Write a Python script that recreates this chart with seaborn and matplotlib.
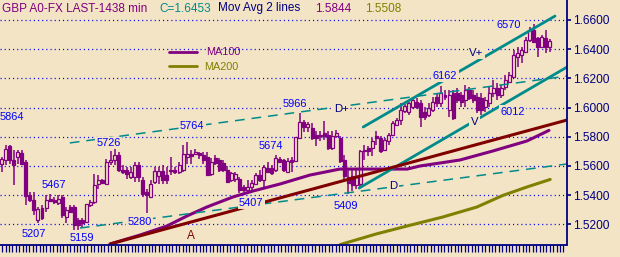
import numpy as np
import pandas as pd
import matplotlib
matplotlib.use("Agg")
import matplotlib.pyplot as plt
from matplotlib.lines import Line2D
import seaborn as sns

sns.set_theme(style="white")
plt.rcParams['font.family'] = ['Liberation Sans', 'DejaVu Sans']
plt.rcParams['lines.scale_dashes'] = False
plt.rcParams['savefig.bbox'] = 'standard'

# ---------------- data ----------------
opens = [1.5616, 1.5639, 1.5734, 1.5639, 1.5661, 1.5689, 1.5627, 1.5400, 1.5366, 1.5230,
         1.5309, 1.5309, 1.5373, 1.5366, 1.5348, 1.5389, 1.5248, 1.5316, 1.5316, 1.5230,
         1.5230, 1.5218, 1.5332, 1.5355, 1.5480, 1.5502, 1.5480, 1.5627, 1.5639, 1.5673,
         1.5575, 1.5570, 1.5525, 1.5525, 1.5605, 1.5502, 1.5423, 1.5389, 1.5491, 1.5530,
         1.5566, 1.5536, 1.5566, 1.5575, 1.5559, 1.5570, 1.5661, 1.5684, 1.5680, 1.5689,
         1.5673, 1.5661, 1.5545, 1.5652, 1.5641, 1.5623, 1.5573, 1.5505, 1.5509, 1.5509,
         1.5459, 1.5436, 1.5459, 1.5477, 1.5539, 1.5505, 1.5584, 1.5584, 1.5573, 1.5645,
         1.5641, 1.5561, 1.5641, 1.5636, 1.5789, 1.5902, 1.5864, 1.5861, 1.5815, 1.5804,
         1.5826, 1.5815, 1.5724, 1.5804, 1.5792, 1.5644, 1.5527, 1.5530, 1.5473, 1.5480,
         1.5701, 1.5724, 1.5724, 1.5804, 1.5792, 1.5712, 1.5769, 1.5815, 1.5884, 1.5918,
         1.5975, 1.5972, 1.6006, 1.6041, 1.6029, 1.5972, 1.5949, 1.5984, 1.6075, 1.6029,
         1.6086, 1.5984, 1.6098, 1.6098, 1.6086, 1.6052, 1.6121, 1.6086, 1.6075, 1.6063,
         1.6006, 1.6029, 1.6098, 1.6132, 1.6086, 1.6143, 1.6178, 1.6212, 1.6349, 1.6360,
         1.6383, 1.6463, 1.6532, 1.6474, 1.6417, 1.6479, 1.6413]
highs = [1.5661, 1.5741, 1.5745, 1.5707, 1.5707, 1.5707, 1.5639, 1.5423, 1.5423, 1.5320,
         1.5332, 1.5400, 1.5411, 1.5389, 1.5400, 1.5400, 1.5320, 1.5332, 1.5332, 1.5241,
         1.5241, 1.5343, 1.5366, 1.5548, 1.5536, 1.5514, 1.5650, 1.5700, 1.5726, 1.5695,
         1.5605, 1.5593, 1.5593, 1.5627, 1.5627, 1.5525, 1.5445, 1.5502, 1.5593, 1.5593,
         1.5605, 1.5593, 1.5661, 1.5593, 1.5627, 1.5741, 1.5764, 1.5707, 1.5718, 1.5695,
         1.5695, 1.5695, 1.5652, 1.5675, 1.5652, 1.5641, 1.5600, 1.5561, 1.5561, 1.5523,
         1.5470, 1.5505, 1.5505, 1.5550, 1.5573, 1.5607, 1.5630, 1.5607, 1.5674, 1.5664,
         1.5645, 1.5652, 1.5664, 1.5800, 1.5966, 1.5914, 1.5902, 1.5895, 1.5838, 1.5838,
         1.5906, 1.5838, 1.5838, 1.5849, 1.5804, 1.5678, 1.5575, 1.5575, 1.5580, 1.5712,
         1.5747, 1.5735, 1.5792, 1.5838, 1.5804, 1.5792, 1.5826, 1.5906, 1.5929, 1.6032,
         1.6032, 1.6041, 1.6075, 1.6063, 1.6052, 1.6006, 1.6029, 1.6075, 1.6098, 1.6150,
         1.6121, 1.6121, 1.6121, 1.6132, 1.6109, 1.6155, 1.6143, 1.6121, 1.6098, 1.6098,
         1.6075, 1.6143, 1.6189, 1.6166, 1.6155, 1.6223, 1.6246, 1.6395, 1.6417, 1.6417,
         1.6486, 1.6554, 1.6570, 1.6486, 1.6497, 1.6532, 1.6468]
lows = [1.5559, 1.5605, 1.5616, 1.5468, 1.5616, 1.5605, 1.5332, 1.5355, 1.5264, 1.5207,
        1.5230, 1.5286, 1.5355, 1.5343, 1.5332, 1.5241, 1.5207, 1.5275, 1.5161, 1.5159,
        1.5184, 1.5207, 1.5320, 1.5343, 1.5445, 1.5475, 1.5468, 1.5605, 1.5605, 1.5559,
        1.5548, 1.5514, 1.5514, 1.5491, 1.5491, 1.5389, 1.5280, 1.5384, 1.5480, 1.5480,
        1.5480, 1.5480, 1.5536, 1.5548, 1.5548, 1.5559, 1.5616, 1.5616, 1.5673, 1.5650,
        1.5616, 1.5536, 1.5530, 1.5607, 1.5561, 1.5561, 1.5482, 1.5493, 1.5493, 1.5414,
        1.5425, 1.5407, 1.5436, 1.5470, 1.5493, 1.5459, 1.5550, 1.5539, 1.5561, 1.5618,
        1.5561, 1.5550, 1.5561, 1.5630, 1.5782, 1.5834, 1.5834, 1.5781, 1.5735, 1.5769,
        1.5781, 1.5712, 1.5712, 1.5792, 1.5621, 1.5507, 1.5409, 1.5430, 1.5440, 1.5450,
        1.5644, 1.5667, 1.5667, 1.5747, 1.5689, 1.5701, 1.5747, 1.5804, 1.5872, 1.5884,
        1.5963, 1.5950, 1.5990, 1.5990, 1.5869, 1.5915, 1.5938, 1.5972, 1.6006, 1.6006,
        1.6052, 1.5938, 1.5915, 1.6029, 1.6006, 1.6006, 1.6052, 1.6029, 1.5961, 1.5949,
        1.5972, 1.6006, 1.6075, 1.6052, 1.6063, 1.6121, 1.6166, 1.6200, 1.6280, 1.6303,
        1.6372, 1.6452, 1.6440, 1.6349, 1.6406, 1.6376, 1.6383]
closes = [1.5645, 1.5718, 1.5639, 1.5609, 1.5695, 1.5616, 1.5393, 1.5366, 1.5298, 1.5305,
          1.5241, 1.5366, 1.5359, 1.5355, 1.5377, 1.5264, 1.5298, 1.5286, 1.5195, 1.5195,
          1.5207, 1.5339, 1.5355, 1.5468, 1.5502, 1.5484, 1.5627, 1.5643, 1.5673, 1.5570,
          1.5559, 1.5548, 1.5559, 1.5605, 1.5525, 1.5411, 1.5400, 1.5480, 1.5566, 1.5564,
          1.5502, 1.5502, 1.5575, 1.5559, 1.5605, 1.5684, 1.5684, 1.5666, 1.5695, 1.5675,
          1.5639, 1.5539, 1.5630, 1.5618, 1.5573, 1.5573, 1.5493, 1.5550, 1.5545, 1.5436,
          1.5436, 1.5459, 1.5482, 1.5539, 1.5505, 1.5595, 1.5561, 1.5550, 1.5652, 1.5630,
          1.5573, 1.5636, 1.5630, 1.5800, 1.5902, 1.5868, 1.5891, 1.5792, 1.5792, 1.5815,
          1.5804, 1.5724, 1.5804, 1.5826, 1.5632, 1.5530, 1.5482, 1.5473, 1.5530, 1.5701,
          1.5712, 1.5701, 1.5769, 1.5792, 1.5701, 1.5781, 1.5815, 1.5895, 1.5918, 1.5986,
          1.6009, 1.6029, 1.6052, 1.6006, 1.5938, 1.5938, 1.5995, 1.6041, 1.6029, 1.6098,
          1.6075, 1.6086, 1.5927, 1.6052, 1.6041, 1.6121, 1.6063, 1.6052, 1.5984, 1.5984,
          1.6052, 1.6098, 1.6132, 1.6086, 1.6132, 1.6189, 1.6223, 1.6360, 1.6372, 1.6395,
          1.6463, 1.6532, 1.6452, 1.6417, 1.6481, 1.6417, 1.6453]

ma100_idx = [26.9, 34.3, 41.0, 46.0, 50.9, 57.4, 62.4, 69.1, 76.5, 83.9, 100.6, 103.8, 113.7, 121.9, 130.3, 135.8]
ma100_val = [1.5066, 1.5127, 1.5189, 1.5258, 1.5319, 1.5388, 1.5429, 1.5477, 1.5538, 1.5579, 1.5579, 1.5600, 1.5641, 1.5703, 1.5771, 1.5844]
ma200_idx = [84.0, 93.0, 101.3, 109.5, 117.9, 124.4, 130.3, 136.1]
ma200_val = [1.5062, 1.5135, 1.5194, 1.5251, 1.5319, 1.5399, 1.5456, 1.5508]

# trend lines: (start index, start price, end index, end price)
dashed_lines = [(16.9, 1.5758, 140.3, 1.6216), (19.4, 1.5175, 140.3, 1.5614)]
channel_lines = [(89.7, 1.5867, 137.3, 1.6627), (88.7, 1.5449, 140.3, 1.6278)]
red_line = (26.9, 1.5066, 140.3, 1.5915)

price_ticks = [1.52, 1.54, 1.56, 1.58, 1.60, 1.62, 1.64, 1.66]

blue_labels = [("5864", -0.42, 1.5936, "left"), ("5764", 47.3, 1.5874, "center"),
               ("5966", 72.8, 1.6025, "center"), ("5726", 26.6, 1.5758, "center"),
               ("5467", 12.9, 1.5473, "center"), ("5207", 7.9, 1.5134, "center"),
               ("5159", 19.8, 1.5107, "center"), ("5280", 34.3, 1.5216, "center"),
               ("5674", 66.8, 1.5737, "center"), ("5407", 61.9, 1.5347, "center"),
               ("5409", 85.5, 1.5326, "center"), ("6162", 110.0, 1.6216, "center"),
               ("6012", 126.8, 1.5973, "center"), ("6570", 125.9, 1.6566, "center")]
navy_labels = [("D", 97.2, 1.5463), ("D+", 84.2, 1.5987), ("V+", 117.7, 1.6377), ("V", 117.3, 1.5898)]
maroon_labels = [("A", 47.0, 1.5121)]

# ---------------- style ----------------
BG = "#F3E4C6"
PURPLE = "#800080"
TEAL = "#008B8B"
MAROON = "#800000"
OLIVE = "#808000"
BLUE = "#0000FF"
NAVY = "#000080"

W, H = 620, 257
PLOT_BOTTOM = 245.0   # pixel row of the time-axis baseline
fig = plt.figure(figsize=(W / 100, H / 100), dpi=100)
fig.patch.set_facecolor(BG)
ax = fig.add_axes([0, 0, 567 / W, 1])
ax.set_facecolor(BG)

px_per_unit = 1460.0
ax.set_ylim(1.66 - (H - 20) / px_per_unit, 1.66 + 20 / px_per_unit)
ax.set_xlim(-0.42, 140.27)
base_frac = 1 - PLOT_BOTTOM / H   # axes fraction of the baseline

# clip rectangle for the price area (above the time strip)
from matplotlib.patches import Rectangle
clip = Rectangle((0, base_frac), 1, 1 - base_frac, transform=ax.transAxes,
                 facecolor="none", edgecolor="none")
ax.add_patch(clip)

# grid
for p in price_ticks:
    ax.axhline(p, color=BLUE, lw=0.9, linestyle=(0, (0.8, 2.2)), zorder=1)

# candles
n = len(closes)
idx = np.arange(n)
df = pd.DataFrame({"i": idx, "o": opens, "h": highs, "l": lows, "c": closes})
ax.vlines(df["i"], df["l"], df["h"], color=PURPLE, lw=1.1, zorder=3)
up = df[df["c"] >= df["o"]]
dn = df[df["c"] < df["o"]]
bw = 0.74
ax.bar(dn["i"], dn["o"] - dn["c"], bottom=dn["c"], width=bw, color=PURPLE,
       edgecolor=PURPLE, lw=0.9, zorder=4)
ax.bar(up["i"], up["c"] - up["o"], bottom=up["o"], width=bw, color=BG,
       edgecolor=PURPLE, lw=0.9, zorder=4)

# moving averages via seaborn
sns.lineplot(x=ma100_idx, y=ma100_val, ax=ax, color=PURPLE, lw=2.2, zorder=5)
sns.lineplot(x=ma200_idx, y=ma200_val, ax=ax, color=OLIVE, lw=2.2, zorder=5)

# trend lines
for (x0, y0, x1, y1) in dashed_lines:
    sns.lineplot(x=[x0, x1], y=[y0, y1], ax=ax, color=TEAL, lw=1.1,
                 zorder=6).lines[-1].set_dashes((7, 5))
for (x0, y0, x1, y1) in channel_lines:
    sns.lineplot(x=[x0, x1], y=[y0, y1], ax=ax, color=TEAL, lw=2.0, zorder=6)
x0, y0, x1, y1 = red_line
sns.lineplot(x=[x0, x1], y=[y0, y1], ax=ax, color=MAROON, lw=2.2, zorder=6)

for ln in ax.lines:
    ln.set_clip_path(clip)
for coll in ax.collections:
    coll.set_clip_path(clip)

# labels
box = dict(boxstyle="square,pad=0.12", facecolor=BG, edgecolor="none")
for t, xx, yy, ha in blue_labels:
    ax.text(xx, yy, t, color=BLUE, fontsize=7.9, ha=ha, va="center", zorder=8, bbox=box)
for t, xx, yy in navy_labels:
    ax.text(xx, yy, t, color=NAVY, fontsize=8.2, ha="center", va="center", zorder=8, bbox=box)
for t, xx, yy in maroon_labels:
    ax.text(xx, yy, t, color=MAROON, fontsize=8.5, ha="center", va="center", zorder=8)

# axes frame
for s in ["left", "top", "bottom", "right"]:
    ax.spines[s].set_visible(False)
ax.plot([1, 1], [base_frac, 1], transform=ax.transAxes, color=NAVY, lw=1.3,
        clip_on=False, zorder=10)
ax.plot([0, 1], [base_frac, base_frac], transform=ax.transAxes, color=NAVY, lw=1.3,
        clip_on=False, zorder=10)
xtr = ax.get_xaxis_transform()
tick_x = np.arange(0.15, 139.9, 3.4 / 4.03)
ax.vlines(tick_x, base_frac - 6.5 / H, base_frac, transform=xtr, color=NAVY, lw=0.9,
          zorder=10)

ax.yaxis.tick_right()
ax.set_yticks(price_ticks)
ax.set_yticklabels([f"{p:.4f}" for p in price_ticks])
ax.tick_params(axis="y", left=False, right=True, labelleft=False, labelright=True,
               colors=NAVY, labelcolor=NAVY, labelsize=8.6, length=3, width=1.2,
               pad=1.5, direction="out")
ax.set_xticks([])
ax.set_xlabel("")
ax.set_ylabel("")

# header texts
yh = 1 - 8.5 / H
fig.text(2 / W, yh, "GBP A0-FX LAST-1438 min", color=PURPLE, fontsize=8.5, va="center")
fig.text(159 / W, yh, "C=1.6453", color=TEAL, fontsize=8.5, va="center")
fig.text(218 / W, yh, "Mov Avg 2 lines", color=NAVY, fontsize=8.5, va="center")
fig.text(315 / W, yh, "1.5844", color=PURPLE, fontsize=8.5, va="center")
fig.text(365 / W, yh, "1.5508", color=OLIVE, fontsize=8.5, va="center")

# legend
fig.add_artist(Line2D([169 / W, 197 / W], [1 - 51.7 / H] * 2, color=PURPLE, lw=2.0))
fig.text(206 / W, 1 - 52.5 / H, "MA100", color=PURPLE, fontsize=7.8, va="center")
fig.add_artist(Line2D([169 / W, 197 / W], [1 - 66 / H] * 2, color=OLIVE, lw=2.0))
fig.text(204 / W, 1 - 67.5 / H, "MA200", color=OLIVE, fontsize=7.8, va="center")

fig.savefig("out.png", dpi=100, facecolor=BG)
